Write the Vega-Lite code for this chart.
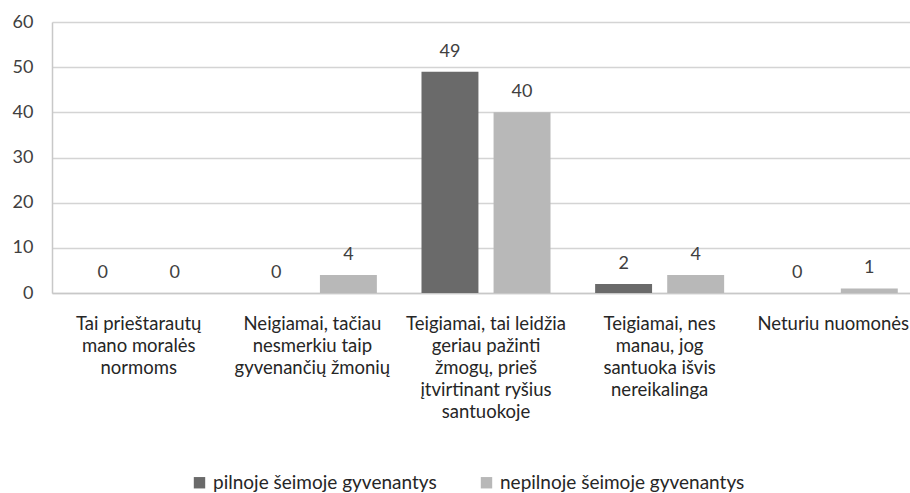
{
  "$schema": "https://vega.github.io/schema/vega-lite/v6.json",
  "width": 868,
  "height": 271,
  "autosize": "none",
  "padding": {"left": 52, "top": 22, "right": 0, "bottom": 200},
  "config": {
    "view": {"stroke": null},
    "font": "Lato, sans-serif"
  },
  "data": {
    "values": [
      {"category": "Tai prieštarautų|mano moralės|normoms", "group": "pilnoje šeimoje gyvenantys", "value": 0},
      {"category": "Tai prieštarautų|mano moralės|normoms", "group": "nepilnoje šeimoje gyvenantys", "value": 0},
      {"category": "Neigiamai, tačiau|nesmerkiu taip|gyvenančių žmonių", "group": "pilnoje šeimoje gyvenantys", "value": 0},
      {"category": "Neigiamai, tačiau|nesmerkiu taip|gyvenančių žmonių", "group": "nepilnoje šeimoje gyvenantys", "value": 4},
      {"category": "Teigiamai, tai leidžia|geriau pažinti|žmogų, prieš|įtvirtinant ryšius|santuokoje", "group": "pilnoje šeimoje gyvenantys", "value": 49},
      {"category": "Teigiamai, tai leidžia|geriau pažinti|žmogų, prieš|įtvirtinant ryšius|santuokoje", "group": "nepilnoje šeimoje gyvenantys", "value": 40},
      {"category": "Teigiamai, nes|manau, jog|santuoka išvis|nereikalinga", "group": "pilnoje šeimoje gyvenantys", "value": 2},
      {"category": "Teigiamai, nes|manau, jog|santuoka išvis|nereikalinga", "group": "nepilnoje šeimoje gyvenantys", "value": 4},
      {"category": "Neturiu nuomonės", "group": "pilnoje šeimoje gyvenantys", "value": 0},
      {"category": "Neturiu nuomonės", "group": "nepilnoje šeimoje gyvenantys", "value": 1}
    ]
  },
  "encoding": {
    "x": {
      "field": "category",
      "type": "nominal",
      "sort": null,
      "scale": {"paddingInner": 0.257, "paddingOuter": 0.128},
      "axis": {
        "title": null,
        "labelAngle": 0,
        "labelExpr": "split(datum.label, '|')",
        "labelLineHeight": 22,
        "labelBaseline": "top",
        "labelPadding": 21,
        "labelFontSize": 18.5,
        "labelColor": "#262626",
        "labelLimit": 0,
        "labelOverlap": false,
        "ticks": false,
        "domainColor": "#c8c8c8",
        "domainWidth": 1.5
      }
    },
    "xOffset": {
      "field": "group",
      "type": "nominal",
      "sort": null,
      "scale": {"paddingInner": 0.21}
    },
    "y": {
      "field": "value",
      "type": "quantitative",
      "scale": {"domain": [0, 60]},
      "axis": {
        "title": null,
        "values": [0, 10, 20, 30, 40, 50, 60],
        "grid": true,
        "gridColor": "#d4d4d4",
        "gridWidth": 1.5,
        "ticks": false,
        "labelPadding": 19,
        "labelFontSize": 18,
        "labelColor": "#404040",
        "domainColor": "#c8c8c8",
        "domainWidth": 1.5
      }
    }
  },
  "layer": [
    {
      "mark": {"type": "bar"},
      "encoding": {
        "color": {
          "field": "group",
          "type": "nominal",
          "sort": null,
          "scale": {"range": ["#6a6a6a", "#b8b8b8"]},
          "legend": {
            "title": null,
            "orient": "none",
            "legendX": 138,
            "legendY": 451,
            "direction": "horizontal",
            "symbolType": "square",
            "symbolSize": 130,
            "symbolStrokeWidth": 0,
            "labelFontSize": 19,
            "labelColor": "#262626",
            "columnPadding": 40,
            "labelLimit": 0
          }
        }
      }
    },
    {
      "mark": {"type": "text", "baseline": "alphabetic", "dy": -15, "fontSize": 18, "color": "#404040"},
      "encoding": {"text": {"field": "value", "type": "quantitative"}}
    }
  ]
}
